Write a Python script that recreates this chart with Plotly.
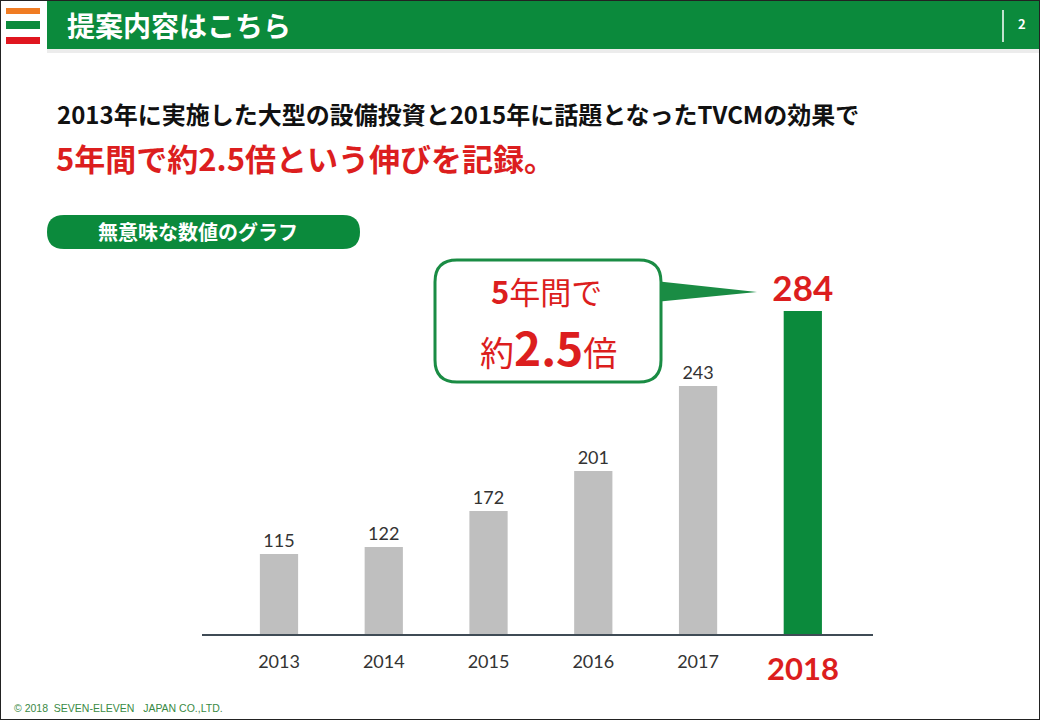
import plotly.graph_objects as go

# ---------------- data ----------------
years = ["2013", "2014", "2015", "2016", "2017", "2018"]
values = [115, 122, 172, 201, 243, 284]            # printed labels
bar_heights = [80, 87, 123, 163, 248, 323]          # drawn heights (chart is not to scale)
bar_colors = ["#bfbfbf", "#bfbfbf", "#bfbfbf", "#bfbfbf", "#bfbfbf", "#0b8a3c"]

title_text = "提案内容はこちら"
headline_1 = "2013年に実施した大型の設備投資と2015年に話題となったTVCMの効果で"
headline_2 = "5年間で約2.5倍という伸びを記録。"
pill_text = "無意味な数値のグラフ"
footer_text = "© 2018  SEVEN-ELEVEN   JAPAN CO.,LTD."
page_no = "2"

W, H = 1040, 720
GREEN = "#0b8a3c"
RED = "#dc1e1e"
JP = "Noto Sans CJK JP"
NUMFONT = "Lato, Liberation Sans, sans-serif"


def px(x):
    return x / W


def py(y):
    return 1 - y / H


bar_text = [str(v) for v in values[:-1]] + ["<b>%d</b>" % values[-1]]
text_sizes = [18] * 5 + [35]
text_colors = ["#333333"] * 5 + [RED]

fig = go.Figure()
fig.add_trace(go.Bar(
    x=list(range(len(years))), y=bar_heights,
    marker=dict(color=bar_colors, line=dict(width=0)),
    text=bar_text, textposition="outside", constraintext="none",
    textfont=dict(size=text_sizes, color=text_colors, family=NUMFONT),
    cliponaxis=False, width=0.365, hoverinfo="skip",
))

# last year is highlighted separately (larger, red, bold)
tick_text = years[:-1] + [""]

shapes = []
# frame border
shapes.append(dict(type="rect", xref="paper", yref="paper", x0=0, x1=1, y0=0, y1=1,
                   line=dict(color="#222222", width=2), fillcolor="rgba(0,0,0,0)", layer="above"))
# header bar
shapes.append(dict(type="rect", xref="paper", yref="paper", x0=px(47), x1=px(1040), y0=py(49), y1=py(0),
                   line=dict(width=0), fillcolor=GREEN, layer="below"))
shapes.append(dict(type="rect", xref="paper", yref="paper", x0=px(47), x1=px(1040), y0=py(53), y1=py(49),
                   line=dict(width=0), fillcolor="#ececec", layer="below"))
# logo stripes
for (y0, y1, c) in [(8, 14, "#f07c23"), (21, 29, GREEN), (37, 44, "#e0161f")]:
    shapes.append(dict(type="rect", xref="paper", yref="paper", x0=px(6), x1=px(40), y0=py(y1), y1=py(y0),
                       line=dict(width=0), fillcolor=c, layer="below"))
# page separator
shapes.append(dict(type="line", xref="paper", yref="paper", x0=px(1003), x1=px(1003), y0=py(42), y1=py(10),
                   line=dict(color="white", width=1.5)))


def rounded_rect(x0, y0, x1, y1, r):
    pts = [
        ("M", x0 + r, y0), ("L", x1 - r, y0), ("Q", x1, y0, x1, y0 + r), ("L", x1, y1 - r),
        ("Q", x1, y1, x1 - r, y1), ("L", x0 + r, y1), ("Q", x0, y1, x0, y1 - r), ("L", x0, y0 + r),
        ("Q", x0, y0, x0 + r, y0),
    ]
    s = ""
    for p in pts:
        cmd = p[0]
        coords = p[1:]
        s += cmd + " " + " ".join(
            "%.5f,%.5f" % (px(coords[i]), py(coords[i + 1])) for i in range(0, len(coords), 2)) + " "
    return s + "Z"


# pill
shapes.append(dict(type="path", xref="paper", yref="paper", path=rounded_rect(47, 215, 360, 249, 17),
                   line=dict(width=0), fillcolor=GREEN, layer="below"))
# callout pointer
shapes.append(dict(type="path", xref="paper", yref="paper",
                   path="M %.5f,%.5f L %.5f,%.5f L %.5f,%.5f Z" % (px(655), py(281), px(757), py(292), px(655), py(302)),
                   line=dict(width=0), fillcolor="#1a8c44", layer="below"))
# callout box
shapes.append(dict(type="path", xref="paper", yref="paper", path=rounded_rect(435, 260, 661, 382, 22),
                   line=dict(color="#1a8c44", width=3), fillcolor="white", layer="below"))

annotations = [
    dict(text="<b>%s</b>" % title_text, x=px(65), y=py(25), xref="paper", yref="paper", xanchor="left",
         yanchor="middle", showarrow=False, font=dict(family=JP, size=28, color="white")),
    dict(text="<b>%s</b>" % page_no, x=px(1022), y=py(24), xref="paper", yref="paper", xanchor="center",
         yanchor="middle", showarrow=False, font=dict(family=JP, size=13, color="white")),
    dict(text="<b>%s</b>" % headline_1, x=px(55), y=py(113), xref="paper", yref="paper", xanchor="left",
         yanchor="middle", showarrow=False, font=dict(family=JP, size=24, color="#111111")),
    dict(text="<b>%s</b>" % headline_2, x=px(54), y=py(157), xref="paper", yref="paper", xanchor="left",
         yanchor="middle", showarrow=False, font=dict(family=JP, size=31, color=RED)),
    dict(text="<b>%s</b>" % pill_text, x=px(198), y=py(232), xref="paper", yref="paper", xanchor="center",
         yanchor="middle", showarrow=False, font=dict(family=JP, size=20, color="white")),
    dict(text="<b>5</b>年間で", x=px(546), y=py(290), xref="paper", yref="paper", xanchor="center",
         yanchor="middle", showarrow=False, borderpad=0, font=dict(family=JP, size=31, color=RED)),
    dict(text="約<b><span style='font-size:46px'>2.5</span></b>倍", x=px(548), y=py(346), xref="paper",
         yref="paper", xanchor="center", yanchor="middle", showarrow=False, borderpad=0,
         font=dict(family=JP, size=34, color=RED)),
    dict(text=footer_text, x=px(12), y=py(708), xref="paper", yref="paper", xanchor="left",
         yanchor="middle", showarrow=False, font=dict(family="Liberation Sans, Arial", size=10.5, color="#3a8a44")),
    # highlighted last-year tick label
    dict(text="<b>%s</b>" % years[-1], x=len(years) - 1, y=0, xref="x", yref="y", xanchor="center",
         yanchor="middle", yshift=-34, showarrow=False, font=dict(family=NUMFONT, size=31, color=RED)),
]

fig.update_layout(
    width=W, height=H, margin=dict(l=0, r=0, t=0, b=0),
    paper_bgcolor="white", plot_bgcolor="white", showlegend=False,
    shapes=shapes, annotations=annotations,
    xaxis=dict(domain=[px(202), px(873)], range=[-0.735, 5.67], tickmode="array",
               tickvals=list(range(len(years))), ticktext=tick_text, showgrid=False, zeroline=False,
               showline=True, linecolor="#3f4b55", linewidth=2, ticks="", ticklabelstandoff=10,
               tickfont=dict(family=NUMFONT, size=18, color="#333333"),
               fixedrange=True),
    yaxis=dict(domain=[py(634), py(250)], range=[0, 384], visible=False, fixedrange=True),
)

fig.write_html("out.html", config={"displayModeBar": False, "staticPlot": True})

# remove the browser's default page margin so the figure sits at the window's top-left corner
with open("out.html", encoding="utf-8") as f:
    html = f.read()
html = html.replace("<head>", "<head><style>html,body{margin:0;padding:0;overflow:hidden;}</style>", 1)
with open("out.html", "w", encoding="utf-8") as f:
    f.write(html)
